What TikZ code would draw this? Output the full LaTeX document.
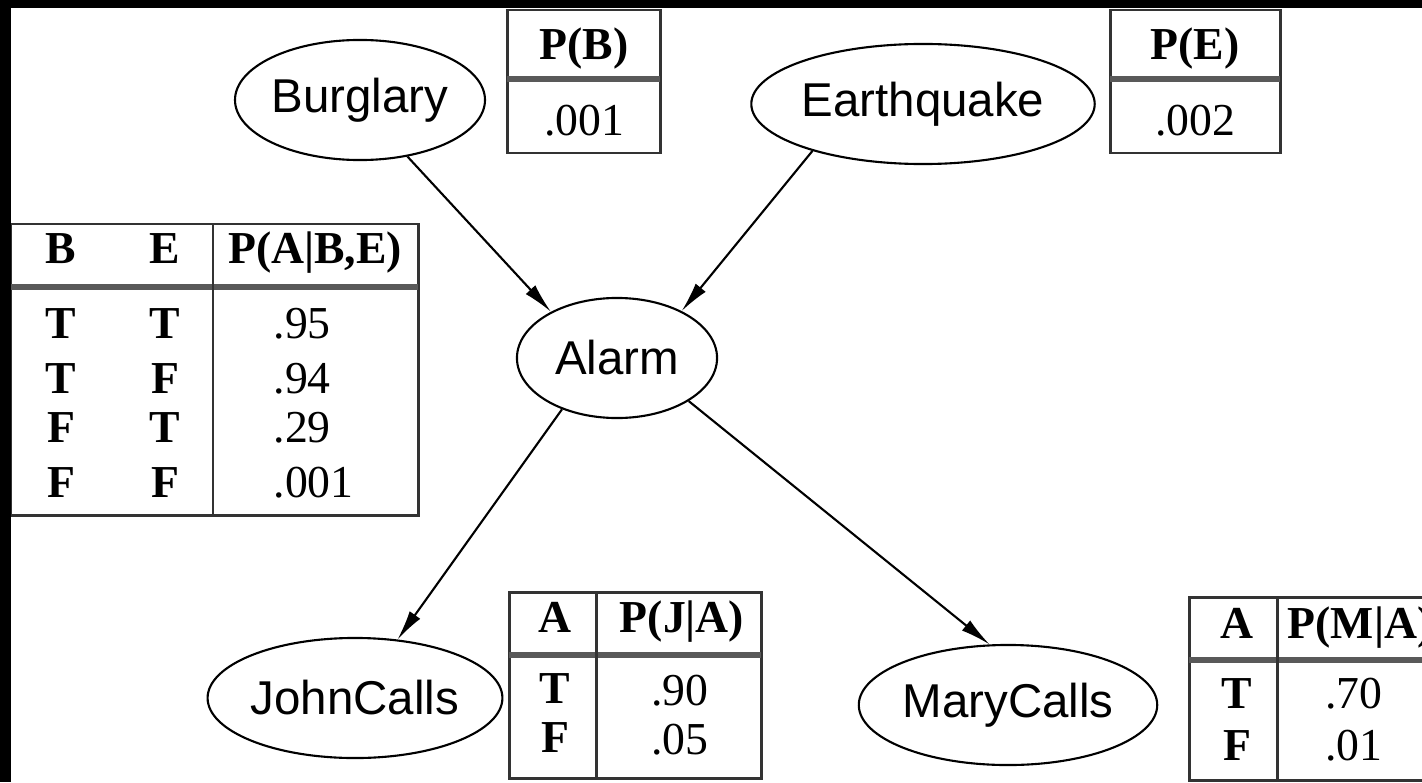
\documentclass[tikz,border=0pt]{standalone}
\usepackage{fontspec}
\setmainfont{Liberation Serif}
\setsansfont{Liberation Sans}
\usetikzlibrary{arrows.meta,positioning,shapes.geometric}

\begin{document}
\begin{tikzpicture}[
    x=0.01cm, y=-0.01cm,
    var/.style={draw, ellipse, line width=0.6pt,
                font=\sffamily\fontsize{13.5}{16}\selectfont,
                minimum width=2cm, minimum height=1.2cm, inner xsep=0pt},
    arrow/.style={-{Latex[length=3mm, width=1.3mm]}, line width=0.6pt},
    grid/.style={draw=black!80, line width=0.85pt},
    rule/.style={draw=black!65, line width=1.7pt},
    hd/.style={font=\bfseries\fontsize{13}{15}\selectfont, inner sep=0pt, anchor=base},
    num/.style={font=\fontsize{13}{15}\selectfont, inner sep=0pt, anchor=base},
  ]
  \useasboundingbox (0,0) rectangle (1422,782);
  \fill[black] (0,0) rectangle (1422,782);
  \fill[white] (11,8) rectangle (1422,782);
  \clip (11,8) rectangle (1422,782);

  % network
  \node[var] (burglary) at (360,100) {Burglary};
  \node[var] (earthquake) at (923,104) {Earthquake};
  \node[var] (alarm) at (617,358) {Alarm};
  \node[var] (john) at (355,698) {JohnCalls};
  \node[var] (mary) at (1008,705) {MaryCalls};
  \draw[arrow] (burglary.310) -- (alarm.145);
  \draw[arrow] (earthquake.203) -- (alarm.36);
  \draw[arrow] (alarm.223) -- (john.54);
  \draw[arrow] (alarm.329) -- (mary.107);

  % P(B)
  \draw[grid] (507,10) rectangle (660,153);
  \draw[rule] (507,79) -- (660,79);
  \node[hd] (pbh) at (584,60) {P(B)};
  \node[num] (pbv) at (584,136) {.001};

  % P(E)
  \draw[grid] (1110,10) rectangle (1280,153);
  \draw[rule] (1110,79) -- (1280,79);
  \node[hd] (peh) at (1195,60) {P(E)};
  \node[num] (pev) at (1195,136) {.002};

  % P(A|B,E)
  \draw[grid] (11,224) rectangle (418,515);
  \draw[rule] (11,287) -- (418,287);
  \draw[grid] (213,224) -- (213,515);
  \node[hd] (pab) at (61,263) {B};
  \node[hd] (pae) at (165,263) {E};
  \node[hd] (pah) at (315,263) {P(A|B,E)};
  \node[hd] (pab1) at (61,338) {T};
  \node[hd] (pae1) at (165,338) {T};
  \node[num, anchor=base west] (pav1) at (273,338) {.95};
  \node[hd] (pab2) at (61,393) {T};
  \node[hd] (pae2) at (165,393) {F};
  \node[num, anchor=base west] (pav2) at (273,393) {.94};
  \node[hd] (pab3) at (61,442) {F};
  \node[hd] (pae3) at (165,442) {T};
  \node[num, anchor=base west] (pav3) at (273,442) {.29};
  \node[hd] (pab4) at (61,497) {F};
  \node[hd] (pae4) at (165,497) {F};
  \node[num, anchor=base west] (pav4) at (273,497) {.001};

  % P(J|A)
  \draw[grid] (509,592) rectangle (761,778);
  \draw[rule] (509,655) -- (761,655);
  \draw[grid] (596,592) -- (596,778);
  \node[hd] (pja) at (555,632) {A};
  \node[hd] (pjh) at (682,632) {P(J|A)};
  \node[hd] (pja1) at (555,703) {T};
  \node[num] (pjv1) at (680,705) {.90};
  \node[hd] (pja2) at (555,752) {F};
  \node[num] (pjv2) at (680,754) {.05};

  % P(M|A)
  \draw[grid] (1189,597) rectangle (1440,780);
  \draw[rule] (1189,660) -- (1440,660);
  \draw[grid] (1277,597) -- (1277,780);
  \node[hd] (pma) at (1237,638) {A};
  \node[hd] (pmh) at (1360,638) {P(M|A)};
  \node[hd] (pma1) at (1237,708) {T};
  \node[num] (pmv1) at (1354,708) {.70};
  \node[hd] (pma2) at (1237,760) {F};
  \node[num] (pmv2) at (1354,760) {.01};
\end{tikzpicture}
\end{document}
